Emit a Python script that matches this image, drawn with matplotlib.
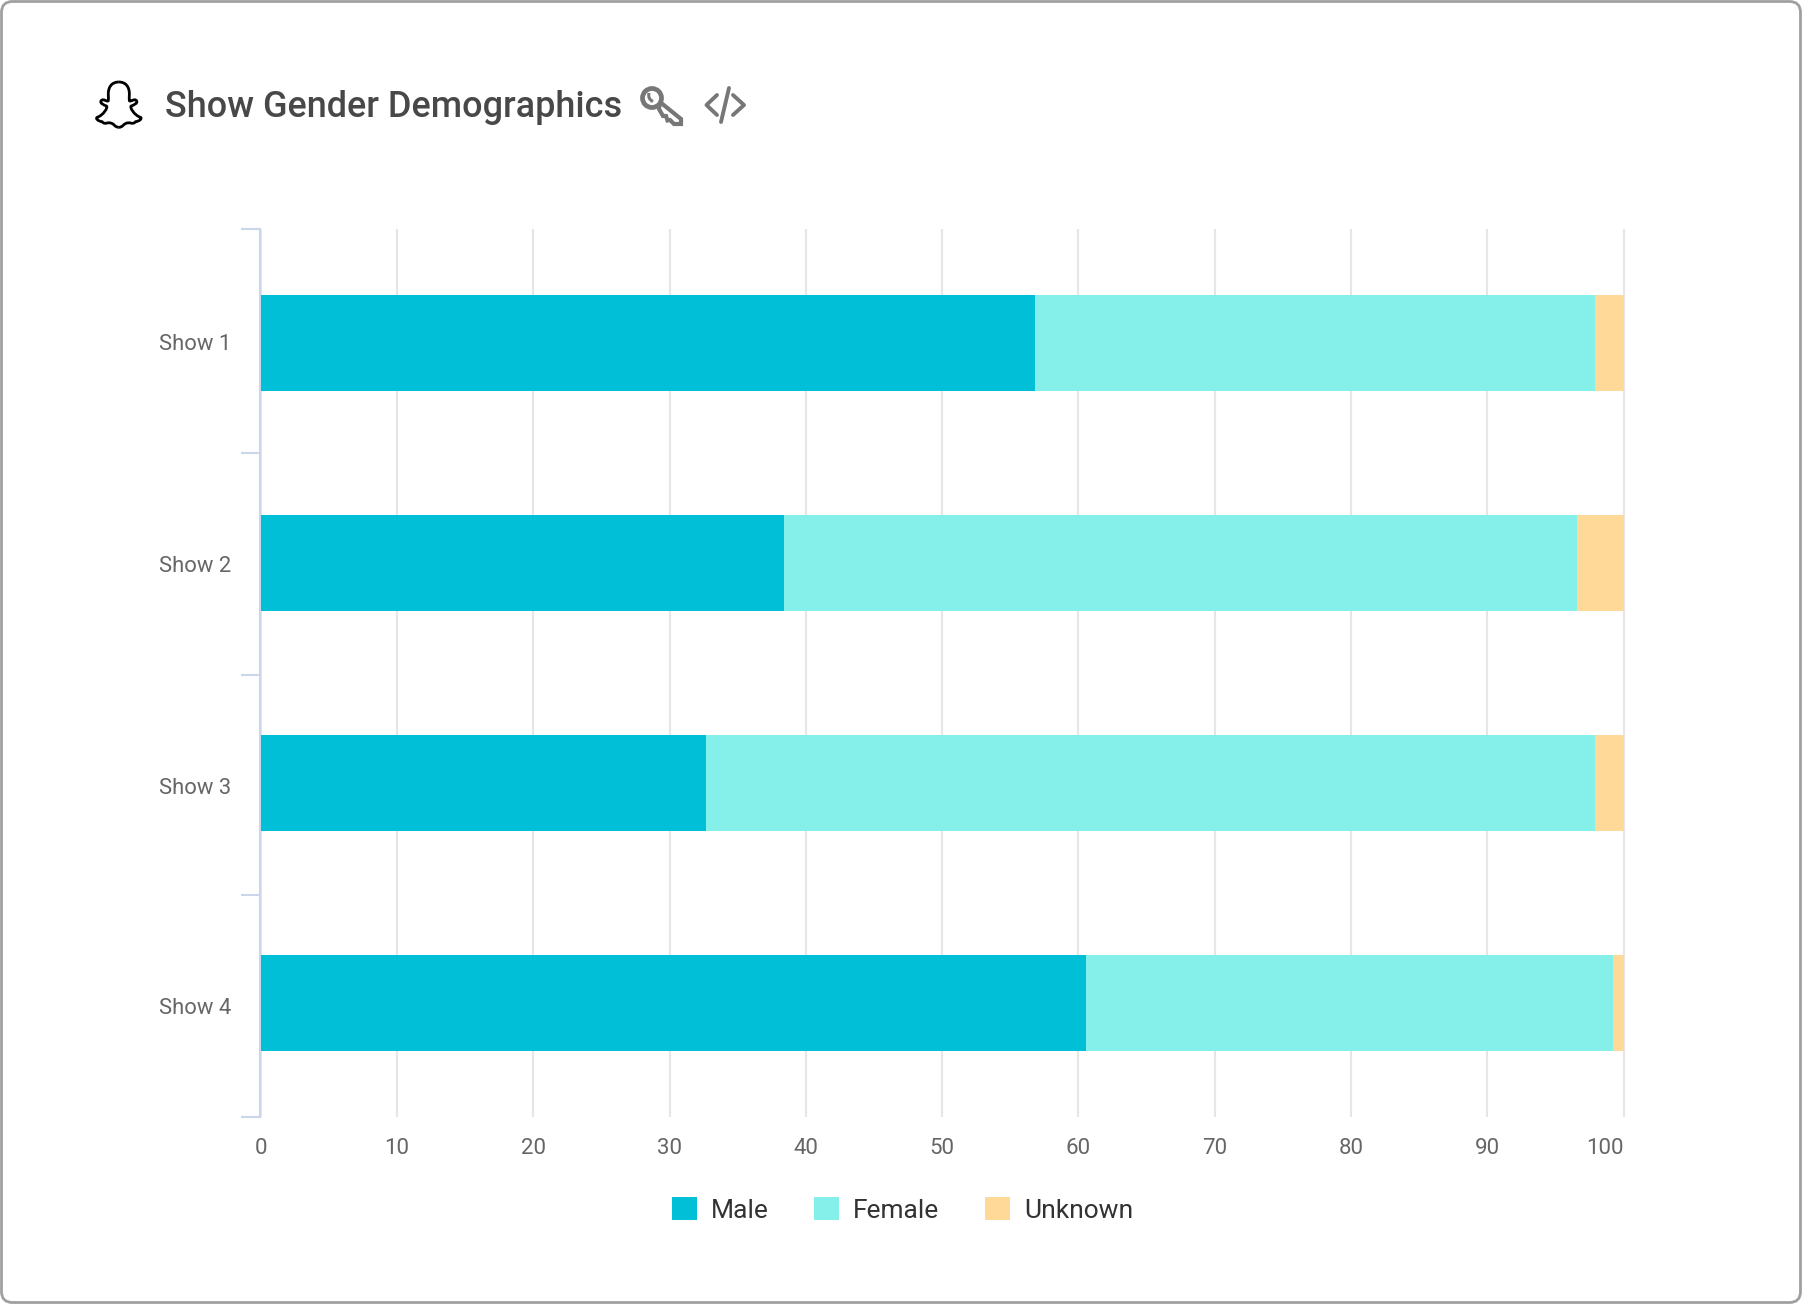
import matplotlib
matplotlib.use("Agg")
import matplotlib.pyplot as plt
from matplotlib.patches import FancyBboxPatch, PathPatch, Circle, Polygon
from matplotlib.path import Path
from matplotlib.ticker import FixedLocator, NullFormatter

W, H = 1802, 1304
title = "Show Gender Demographics"
shows = ["Show 1", "Show 2", "Show 3", "Show 4"]
male = [56.8, 38.4, 32.7, 60.55]
female = [41.1, 58.2, 65.2, 38.65]
unknown = [2.1, 3.4, 2.1, 0.8]
series_names = ["Male", "Female", "Unknown"]
colors = ["#00BFD6", "#85F0E9", "#FFD998"]
x_ticks = list(range(0, 101, 10))

plt.rcParams['font.family'] = ['Roboto', 'DejaVu Sans']
fig = plt.figure(figsize=(W/100, H/100), dpi=100, facecolor='white')

# overlay in pixel coordinates
ov = fig.add_axes([0, 0, 1, 1], zorder=5)
ov.set_xlim(0, W); ov.set_ylim(H, 0); ov.axis('off'); ov.patch.set_alpha(0)
ov.add_patch(FancyBboxPatch((1.5, 1.5), W-3, H-3, boxstyle="round,pad=0,rounding_size=11",
                            fc='none', ec='#A0A0A0', lw=2.0))
ov.text(165, 107.5, title, fontsize=25.9, fontweight='medium', color='#484848', va='center', ha='left')

# chart axes
L, R, T, B = 260.6, 1623.7, 229, 1117
ax = fig.add_axes([L/W, 1-B/H, (R-L)/W, (B-T)/H])
ax.set_xlim(0, 100)
ax.set_ylim(3.518, -0.518)
ypos = list(range(len(shows)))
left = [0]*4
for vals, c, n in zip([male, female, unknown], colors, series_names):
    ax.barh(ypos, vals, left=left, height=0.436, color=c, label=n, zorder=3, linewidth=0)
    left = [a+b for a, b in zip(left, vals)]
for s in ['top', 'right', 'bottom']:
    ax.spines[s].set_visible(False)
ax.spines['left'].set_color('#CCD6EB')
ax.spines['left'].set_linewidth(1.5)
ax.spines['left'].set_position(('outward', 0.7))
ax.set_xticks(x_ticks)
ax.xaxis.grid(True, color='#E6E6E6', lw=1.5, zorder=0, clip_on=False, solid_capstyle='butt')
ax.set_axisbelow(True)
ax.tick_params(axis='x', length=0, pad=15, labelsize=16, labelcolor='#666666')
labs = ax.get_xticklabels()
labs[-1].set_ha('right')
ax.set_yticks([-0.005, 1.005, 2.015, 3.013])
ax.set_yticklabels(shows)
ax.tick_params(axis='y', which='major', length=0, pad=20.3, labelsize=15.8, labelcolor='#666666')
ax.yaxis.set_minor_locator(FixedLocator([-0.518, 0.5, 1.51, 2.51, 3.518]))
ax.yaxis.set_minor_formatter(NullFormatter())
ax.tick_params(axis='y', which='minor', length=14, width=1.5, color='#CCD6EB')

h, l = ax.get_legend_handles_labels()
leg = fig.legend(h, l, ncols=3, frameon=False, fontsize=19, labelcolor='#333333',
                 loc='center', bbox_to_anchor=(902.5/W, 1-1210/H),
                 handlelength=0.95, handleheight=0.985, handletextpad=0.52, columnspacing=1.74, borderpad=0)

# Snapchat ghost outline (left half, then mirrored)
C4 = Path.CURVE4
half = [(100,36),(78,36),(66,50),(66,72),(66,80),(67,88),(66,92),(62,97),(50,84),(43,92),
        (38,100),(50,104),(60,108),(66,112),(50,136),(30,142),(24,146),(34,154),(46,155),
        (50,160),(56,161),(62,159),(72,157),(80,160),(86,166),(90,170),(95,172),(100,172)]
def to_px(p, flip=False):
    x, y = p
    x = 100 + (x - 100) * 0.93
    if flip:
        x = 200 - x
    return (85.5 + x/3, 70 + y/3)
codes = [Path.MOVETO] + [C4]*(len(half)-1)
for flip in (False, True):
    ov.add_patch(PathPatch(Path([to_px(p, flip) for p in half], codes), fc='none', ec='black', lw=2.0))

# code icon
for xs, ys in [((717, 706.5, 717), (95, 105, 115)), ((733, 744, 733), (95, 105, 115)), ((729, 721), (88, 122))]:
    ov.plot(xs, ys, color='#777777', lw=2.8, solid_capstyle='round', solid_joinstyle='round')
# key icon
ov.add_patch(Polygon([(660,102),(681,119),(681,124),(674,124),(670,120),(667.5,120.5),(666,116),(663,116),(659,109)],
                     closed=True, fc='white', ec='#777777', lw=3.0))
ov.add_patch(Circle((652, 98), 9.5, fc='white', ec='#777777', lw=3.4))
ov.add_patch(PathPatch(Path([(649,93),(647.5,99),(653,101.5)], [Path.MOVETO, Path.CURVE3, Path.CURVE3]),
                       fc='none', ec='#777777', lw=2.2))

fig.savefig('out.png', dpi=100, facecolor='white')
